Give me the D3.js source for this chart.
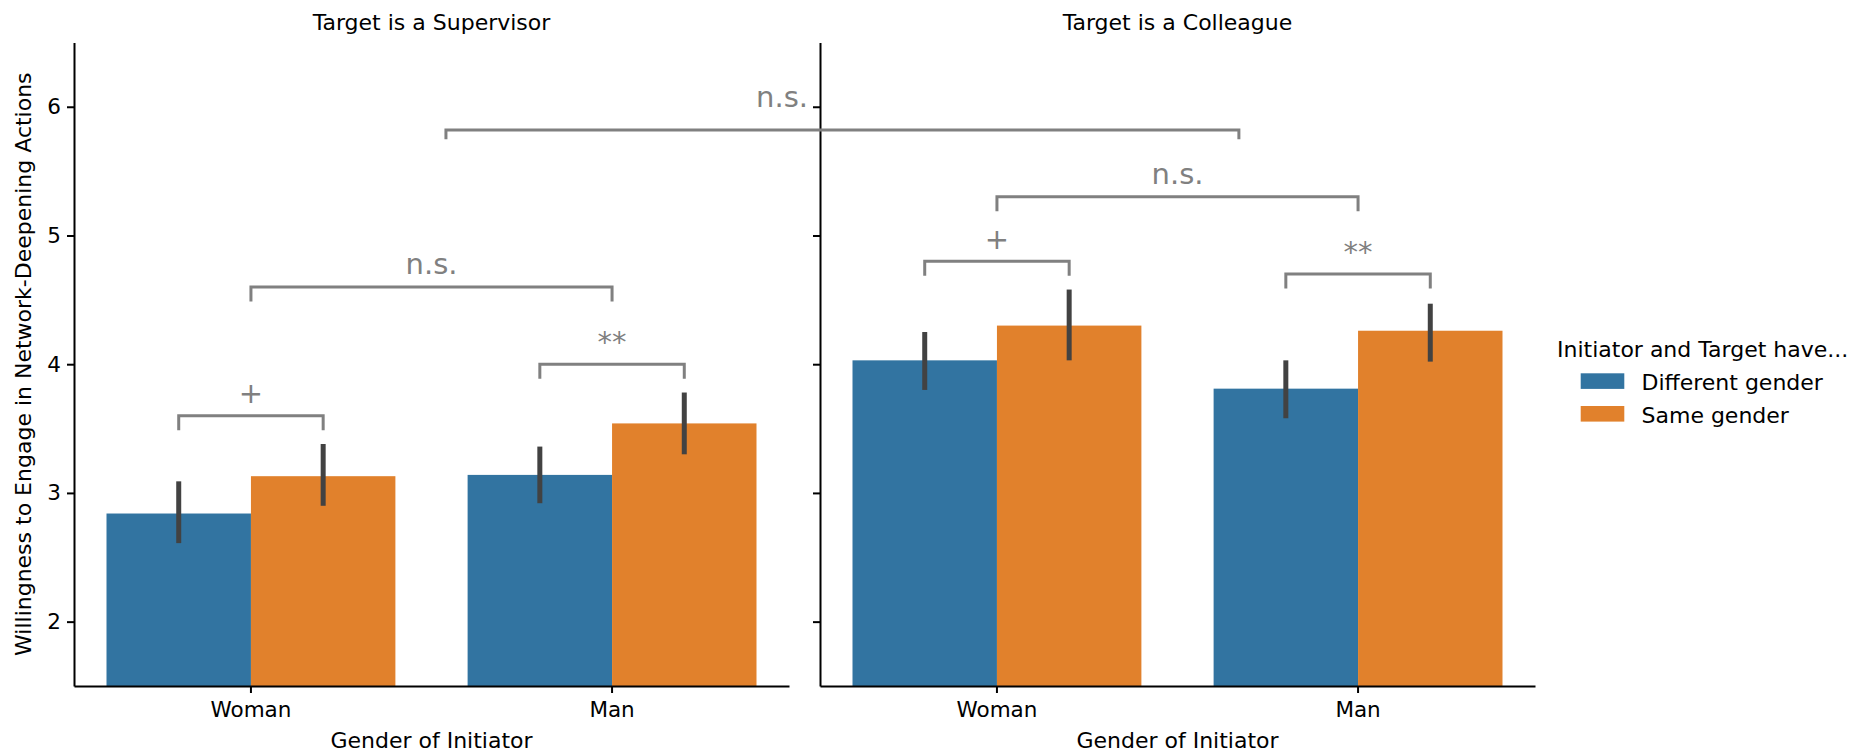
<!DOCTYPE html>
<html>
<head>
<meta charset="utf-8">
<script src="https://cdn.jsdelivr.net/npm/d3@7"></script>
<style>
  html, body { margin: 0; padding: 0; background: #ffffff; }
  svg { display: block; font-family: "DejaVu Sans", sans-serif; }
</style>
</head>
<body>
<svg id="chart" width="1849" height="755"></svg>
<script>
// ---- data ----
const panels = ["Target is a Supervisor", "Target is a Colleague"];
const genders = ["Woman", "Man"];
const hues = ["Different gender", "Same gender"];

// mean willingness, per panel -> [Woman, Man] -> [Different, Same]
const supervisorMeans = [[2.84, 3.13], [3.14, 3.54]];
const supervisorLow   = [[2.61, 2.90], [2.92, 3.30]];
const supervisorHigh  = [[3.09, 3.38], [3.36, 3.78]];

const colleagueMeans = [[4.03, 4.30], [3.81, 4.26]];
const colleagueLow   = [[3.80, 4.03], [3.58, 4.02]];
const colleagueHigh  = [[4.25, 4.58], [4.03, 4.47]];

const yTicks = [2, 3, 4, 5, 6];

// significance brackets inside each panel: [from group, from hue] -> [to group, to hue]
// a hue of null means the group centre
const supervisorBrackets = [
  { from: ["Woman", "Different gender"], to: ["Woman", "Same gender"], level: 3.60, label: "+" },
  { from: ["Man", "Different gender"],   to: ["Man", "Same gender"],   level: 4.00, label: "**" },
  { from: ["Woman", null],               to: ["Man", null],            level: 4.60, label: "n.s." }
];
const colleagueBrackets = [
  { from: ["Woman", "Different gender"], to: ["Woman", "Same gender"], level: 4.80, label: "+" },
  { from: ["Man", "Different gender"],   to: ["Man", "Same gender"],   level: 4.70, label: "**" },
  { from: ["Woman", null],               to: ["Man", null],            level: 5.30, label: "n.s." }
];
// bracket comparing the two panels (x given in category units of each panel)
const crossBracket = { fromPos: 0.54, toPos: 0.67, level: 5.82, label: "n.s." };

// ---- layout ----
const colors = { "Different gender": "#3274a1", "Same gender": "#e1812c" };
const annoColor = "#808080";
const errColor = "#424242";
const plotTop = 42.4, plotBottom = 686;
const panelX = [[74, 789], [820, 1535]];

const svg = d3.select("#chart");
const y = d3.scaleLinear().domain([1.5, 6.5]).range([plotBottom, plotTop]);

const panelData = [
  { means: supervisorMeans, low: supervisorLow, high: supervisorHigh, brackets: supervisorBrackets },
  { means: colleagueMeans,  low: colleagueLow,  high: colleagueHigh,  brackets: colleagueBrackets }
];

const xScales = [];

panelData.forEach((pd, pi) => {
  const x = d3.scaleBand().domain(genders).range(panelX[pi]).paddingInner(0.2).paddingOuter(0.09);
  const xh = d3.scaleBand().domain(hues).range([0, x.bandwidth()]);
  xScales.push({ x, xh });

  const g = svg.append("g");

  // bars
  genders.forEach((gen, gi) => {
    hues.forEach((h, hi) => {
      const v = pd.means[gi][hi];
      g.append("rect")
        .attr("x", x(gen) + xh(h))
        .attr("y", y(v))
        .attr("width", xh.bandwidth())
        .attr("height", y(1.5) - y(v))
        .attr("fill", colors[h]);
    });
  });

  // error bars
  genders.forEach((gen, gi) => {
    hues.forEach((h, hi) => {
      const cx = x(gen) + xh(h) + xh.bandwidth() / 2;
      g.append("line")
        .attr("x1", cx).attr("x2", cx)
        .attr("y1", y(pd.low[gi][hi])).attr("y2", y(pd.high[gi][hi]))
        .attr("stroke", errColor)
        .attr("stroke-width", 5);
    });
  });

  // axes
  const yAxis = d3.axisLeft(y).tickValues(yTicks).tickSize(7).tickSizeOuter(0).tickPadding(6)
    .tickFormat(pi === 0 ? d3.format("d") : () => "");
  const ya = g.append("g").attr("transform", `translate(${panelX[pi][0]},0)`).call(yAxis);

  const xAxis = d3.axisBottom(x).tickSize(7).tickSizeOuter(0).tickPadding(9);
  const xa = g.append("g").attr("transform", `translate(0,${plotBottom})`).call(xAxis);

  [ya, xa].forEach(a => {
    a.attr("font-family", "DejaVu Sans").attr("font-size", 21.5);
    a.select(".domain").attr("stroke", "#000").attr("stroke-width", 2);
    a.selectAll(".tick line").attr("stroke", "#000").attr("stroke-width", 2);
    a.selectAll(".tick text").attr("fill", "#000");
  });

  // panel title
  const cx = (panelX[pi][0] + panelX[pi][1]) / 2;
  svg.append("text")
    .attr("x", cx).attr("y", 30)
    .attr("text-anchor", "middle")
    .attr("font-size", 22)
    .text(panels[pi]);

  // x label
  svg.append("text")
    .attr("x", cx).attr("y", 748)
    .attr("text-anchor", "middle")
    .attr("font-size", 22)
    .text("Gender of Initiator");

  // significance brackets
  const pos = ([gen, h]) => h === null
    ? x(gen) + x.bandwidth() / 2
    : x(gen) + xh(h) + xh.bandwidth() / 2;
  const legPx = 14.5;
  pd.brackets.forEach(b => {
    const x1 = pos(b.from), x2 = pos(b.to), ly = y(b.level);
    g.append("path")
      .attr("d", `M${x1},${ly + legPx}V${ly}H${x2}V${ly + legPx}`)
      .attr("fill", "none")
      .attr("stroke", annoColor)
      .attr("stroke-width", 3);
    g.append("text")
      .attr("x", (x1 + x2) / 2)
      .attr("y", ly - 12.5)
      .attr("text-anchor", "middle")
      .attr("font-size", 29)
      .attr("fill", annoColor)
      .text(b.label);
  });
});

// y label
svg.append("text")
  .attr("transform", `translate(31,${(plotTop + plotBottom) / 2}) rotate(-90)`)
  .attr("text-anchor", "middle")
  .attr("font-size", 22)
  .text("Willingness to Engage in Network-Deepening Actions");

// bracket spanning both panels
{
  const toPx = (pi, p) => {
    const { x } = xScales[pi];
    const c0 = x("Woman") + x.bandwidth() / 2;
    const c1 = x("Man") + x.bandwidth() / 2;
    return c0 + p * (c1 - c0);
  };
  const x1 = toPx(0, crossBracket.fromPos);
  const x2 = toPx(1, crossBracket.toPos);
  const ly = y(crossBracket.level);
  svg.append("path")
    .attr("d", `M${x1},${ly + 9.3}V${ly}H${x2}V${ly + 9.3}`)
    .attr("fill", "none")
    .attr("stroke", annoColor)
    .attr("stroke-width", 3);
  svg.append("text")
    .attr("x", panelX[0][1] + 19)
    .attr("y", ly - 23.3)
    .attr("text-anchor", "end")
    .attr("font-size", 29)
    .attr("fill", annoColor)
    .text(crossBracket.label);
}

// legend
{
  const lg = svg.append("g");
  lg.append("text")
    .attr("x", 1557).attr("y", 356.7)
    .attr("font-size", 22)
    .text("Initiator and Target have...");
  hues.forEach((h, i) => {
    const yy = 373.3 + i * 32.7;
    lg.append("rect")
      .attr("x", 1580.7).attr("y", yy)
      .attr("width", 43.6).attr("height", 15.6)
      .attr("fill", colors[h]);
    lg.append("text")
      .attr("x", 1641.5).attr("y", yy + 16.5)
      .attr("font-size", 22)
      .text(h);
  });
}
</script>
</body>
</html>
